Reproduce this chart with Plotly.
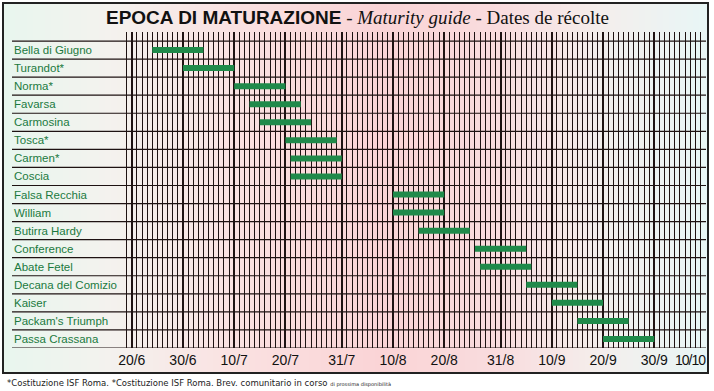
import plotly.graph_objects as go

# ---------------- data ----------------
varieties = ["Bella di Giugno", "Turandot*", "Norma*", "Favarsa", "Carmosina", "Tosca*",
             "Carmen*", "Coscia", "Falsa Recchia", "William", "Butirra Hardy", "Conference",
             "Abate Fetel", "Decana del Comizio", "Kaiser", "Packam's Triumph", "Passa Crassana"]
start_dates = ["2001-06-24", "2001-06-30", "2001-07-10", "2001-07-13", "2001-07-15", "2001-07-20",
               "2001-07-21", "2001-07-21", "2001-08-10", "2001-08-10", "2001-08-15", "2001-08-26",
               "2001-08-27", "2001-09-05", "2001-09-10", "2001-09-15", "2001-09-20"]
end_dates = ["2001-07-04", "2001-07-10", "2001-07-20", "2001-07-23", "2001-07-25", "2001-07-30",
             "2001-07-31", "2001-07-31", "2001-08-20", "2001-08-20", "2001-08-25", "2001-09-05",
             "2001-09-06", "2001-09-15", "2001-09-20", "2001-09-25", "2001-09-30"]
tick_dates = ["2001-06-20", "2001-06-30", "2001-07-10", "2001-07-20", "2001-07-31", "2001-08-10",
              "2001-08-20", "2001-08-31", "2001-09-10", "2001-09-20", "2001-09-30", "2001-10-10"]
tick_labels = ["20/6", "30/6", "10/7", "20/7", "31/7", "10/8", "20/8", "31/8", "10/9", "20/9",
               "30/9", "10/10"]
title_main = "EPOCA DI MATURAZIONE"
title_en = "Maturity guide"
title_fr = "Dates de récolte"
footnote = "*Costituzione ISF Roma. *Costituzione ISF Roma. Brev. comunitario in corso"
footnote_small = "di prossima disponibilità"

# ---------------- layout constants ----------------
W, H = 714, 391
L, R, T, B = 121, 8, 32, 43
PW, PH = W - L - R, H - T - B

def px_x(px):
    return (px - L) / PW

def px_y(py):
    return (H - B - py) / PH

SANS = "Liberation Sans, Arial, sans-serif"
GREEN_TXT = "#1b7a3e"
BAR_COL = "#1f8a4a"
GRID = "#1e1212"
TICK_FONT = dict(family=SANS, size=14, color="#111111")

fig = go.Figure()

# bars
xs, ys = [], []
for i, (s, e) in enumerate(zip(start_dates, end_dates)):
    xs += [s, e, None]
    ys += [i, i, None]
fig.add_trace(go.Scatter(x=xs, y=ys, mode="lines",
                         line=dict(color=BAR_COL, width=6), hoverinfo="skip",
                         showlegend=False))

shapes = []
# background gradient strips (inside frame)
stops = [(3, (232, 246, 238)), (110, (244, 242, 238)), (230, (250, 226, 226)),
         (380, (250, 212, 214)), (500, (249, 220, 222)), (600, (244, 238, 236)),
         (708, (232, 246, 246))]

def col_at(px):
    for (x0, c0), (x1, c1) in zip(stops[:-1], stops[1:]):
        if x0 <= px <= x1:
            t = (px - x0) / (x1 - x0)
            return "rgb(%d,%d,%d)" % tuple(round(a + (b - a) * t) for a, b in zip(c0, c1))
    return "rgb(%d,%d,%d)" % stops[-1][1]

step = 6
px = 3
while px < 708:
    px2 = min(px + step, 708)
    shapes.append(dict(type="rect", xref="paper", yref="paper",
                       x0=px_x(px), x1=px_x(px2 + 0.5), y0=px_y(373), y1=px_y(3),
                       fillcolor=col_at((px + px2) / 2), line=dict(width=0), layer="below"))
    px = px2

# row separators extending into label column
for k in range(len(varieties) + 1):
    shapes.append(dict(type="line", xref="paper", yref="y",
                       x0=px_x(12), x1=1, y0=k - 0.5, y1=k - 0.5,
                       line=dict(color=GRID, width=1.2), layer="above"))

# outer frame
shapes.append(dict(type="rect", xref="paper", yref="paper",
                   x0=px_x(3), x1=px_x(708), y0=px_y(373), y1=px_y(3),
                   line=dict(color="#222222", width=2), layer="above"))

annotations = []
for i, name in enumerate(varieties):
    annotations.append(dict(xref="paper", yref="y", x=px_x(12), y=i, text=name,
                            showarrow=False, xanchor="left", yanchor="middle",
                            font=dict(family=SANS, size=11.5, color=GREEN_TXT)))

# last tick label sits against the right edge (right-aligned)
annotations.append(dict(xref="x", yref="paper", x=tick_dates[-1], y=0, xshift=3,
                        yshift=-2,
                        text="<span style='letter-spacing:-1px'>" + tick_labels[-1] + "</span>",
                        showarrow=False, xanchor="right", yanchor="top", font=TICK_FONT))

annotations.append(dict(
    xref="paper", yref="paper", x=px_x(357), y=px_y(18), showarrow=False,
    xanchor="center", yanchor="middle",
    text=("<span style='font-family:Liberation Sans, Arial, sans-serif;font-weight:900'>"
          + title_main + "</span> - <i>" + title_en + "</i> - " + title_fr),
    font=dict(family="Liberation Serif, DejaVu Serif, serif", size=19, color="#111111")))

annotations.append(dict(
    xref="paper", yref="paper", x=px_x(5), y=px_y(383), showarrow=False,
    xanchor="left", yanchor="middle",
    text=footnote + " <span style='font-size:5px'>" + footnote_small + "</span>",
    font=dict(family="DejaVu Sans, sans-serif", size=8.5, color="#222222")))

fig.update_layout(
    width=W, height=H,
    margin=dict(l=L, r=R, t=T, b=B, pad=0),
    paper_bgcolor="white", plot_bgcolor="rgba(0,0,0,0)",
    shapes=shapes, annotations=annotations, showlegend=False,
    xaxis=dict(type="date", range=["2001-06-17 21:36", "2001-10-10 02:24"],
               tickmode="array", tickvals=tick_dates,
               ticktext=tick_labels[:-1] + [""],
               showgrid=True, gridcolor=GRID, gridwidth=2,
               minor=dict(tick0="2001-06-18", dtick=86400000, showgrid=True,
                          gridcolor=GRID, gridwidth=1),
               zeroline=False, showline=False, ticks="", ticklabelstandoff=2,
               tickfont=TICK_FONT),
    yaxis=dict(range=[len(varieties) - 0.5, -1], showgrid=False, zeroline=False,
               showticklabels=False, fixedrange=True),
)

fig.write_html("out.html", post_script="document.body.style.margin='0';",
               config={"displayModeBar": False})
